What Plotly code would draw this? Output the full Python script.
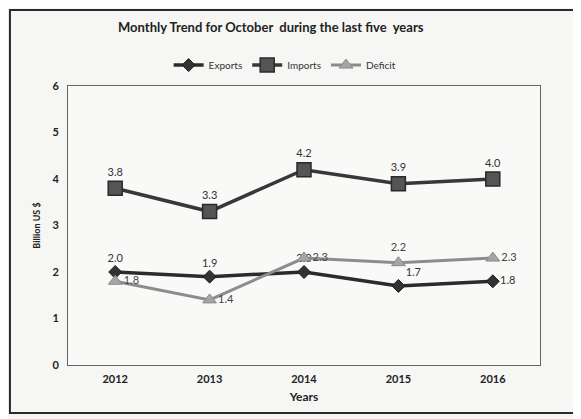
import plotly.graph_objects as go

years = ["2012", "2013", "2014", "2015", "2016"]
exports = [2.0, 1.9, 2.0, 1.7, 1.8]
imports = [3.8, 3.3, 4.2, 3.9, 4.0]
deficit = [1.8, 1.4, 2.3, 2.2, 2.3]

exp_pos = ["top center", "top center", "top center", "top right", "middle right"]
imp_pos = ["top center"] * 5
def_pos = ["middle right", "middle right", "middle right", "top center", "middle right"]

font = "Lato, 'Open Sans', sans-serif"

fig = go.Figure()
fig.add_trace(go.Scatter(
    x=years, y=exports, name="Exports", mode="lines+markers+text",
    line=dict(color="#2b2b2b", width=3.5),
    marker=dict(symbol="diamond", size=10, color="#333333", line=dict(color="#1e1e1e", width=1)),
    text=[f"{v:.1f}" for v in exports], textposition=exp_pos,
    textfont=dict(family=font, size=11, color="#333333"),
))
fig.add_trace(go.Scatter(
    x=years, y=imports, name="Imports", mode="lines+markers+text",
    line=dict(color="#383838", width=3.5),
    marker=dict(symbol="square", size=14, color="#555555", line=dict(color="#2a2a2a", width=1.5)),
    text=[f"{v:.1f}" for v in imports], textposition=imp_pos,
    textfont=dict(family=font, size=11, color="#333333"),
))
fig.add_trace(go.Scatter(
    x=years, y=deficit, name="Deficit", mode="lines+markers+text",
    line=dict(color="#8c8c8c", width=3),
    marker=dict(symbol="triangle-up", size=12, color="#a5a5a5", line=dict(color="#8a8a8a", width=1)),
    text=[f"{v:.1f}" for v in deficit], textposition=def_pos,
    textfont=dict(family=font, size=11, color="#444444"),
))

fig.update_layout(
    width=573, height=411,
    margin=dict(l=60, r=41, t=78, b=54),
    paper_bgcolor="#f6f6f4", plot_bgcolor="#f9f9f8",
    font=dict(family=font, color="#222222", size=11),
    showlegend=True,
    legend=dict(orientation="h", x=0.46, xanchor="center", y=1.075, yanchor="middle",
                font=dict(family=font, size=10, color="#333333"), bgcolor="rgba(0,0,0,0)",
                traceorder="normal", itemwidth=30),
    annotations=[dict(text="<b>Monthly Trend for October  during the last five  years</b>",
                      xref="paper", yref="paper", x=0.43, y=1.21, xanchor="center", yanchor="middle",
                      showarrow=False, font=dict(family=font, size=13, color="#222222"))],
    shapes=[dict(type="rect", xref="paper", yref="paper", x0=-0.123, x1=1.078, y0=-0.172, y1=1.272,
                 line=dict(color="#2a2a2a", width=2), layer="below")],
)
fig.update_xaxes(
    type="category", range=[-0.5, 4.5], showgrid=False, zeroline=False,
    showline=True, linecolor="#666666", linewidth=1, mirror=True,
    ticks="outside", ticklen=4, tickcolor="rgba(0,0,0,0)",
    tickfont=dict(family=font, size=11, color="#222222"),
    title=dict(text="<b>Years</b>", font=dict(family=font, size=12, color="#222222"), standoff=8),
    tickprefix="<b>", ticksuffix="</b>",
)
fig.update_yaxes(
    range=[0, 6], dtick=1, showgrid=False, zeroline=False,
    showline=True, linecolor="#666666", linewidth=1, mirror=True,
    ticks="outside", ticklen=6, tickcolor="rgba(0,0,0,0)",
    tickfont=dict(family=font, size=11, color="#222222"),
    tickprefix="<b>", ticksuffix="</b>",
    title=dict(text="<b>Billion US $</b>", font=dict(family=font, size=9, color="#222222"), standoff=10),
)

fig.write_html("out.html")
